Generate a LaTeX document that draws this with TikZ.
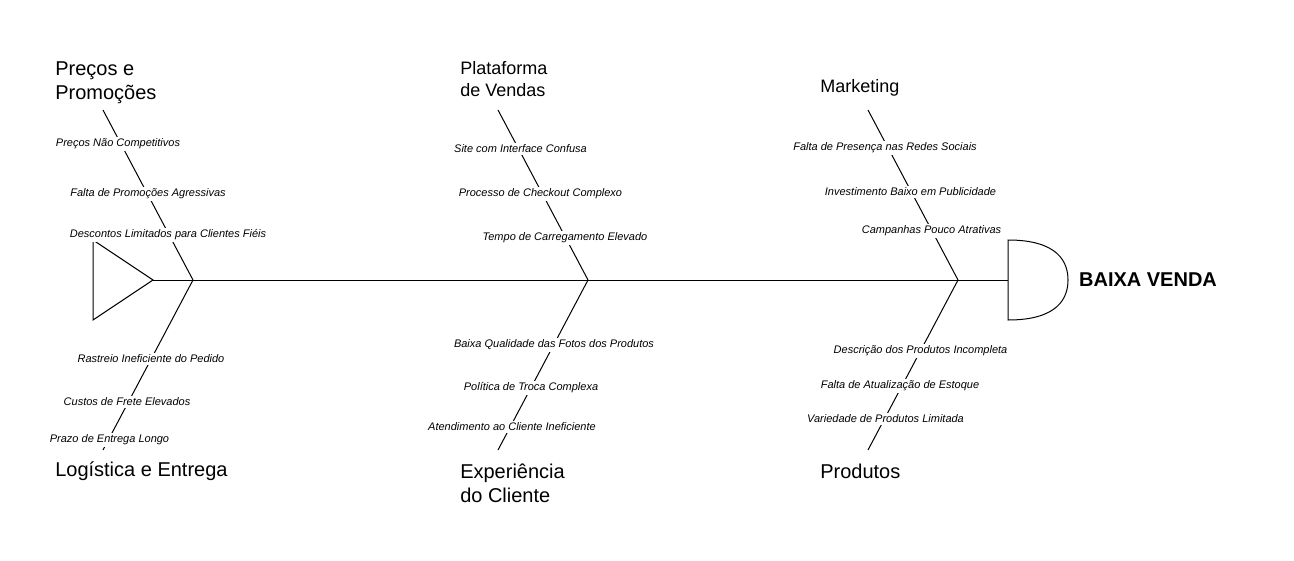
\documentclass[tikz,border=0pt]{standalone}
\usepackage{fontspec}
\setmainfont{Liberation Sans}
\tikzset{
  bone/.style={black,line width=0.75pt},
  cause/.style={fill=white,inner xsep=1pt,inner ysep=1.2pt,
    font=\fontsize{8.25}{9.9}\selectfont\itshape},
  group/.style={anchor=west,align=left,inner sep=0pt,
    font=\fontsize{15}{18}\selectfont},
  smallgroup/.style={group,font=\fontsize{13.5}{16.5}\selectfont},
  effect/.style={inner sep=0pt,font=\fontsize{15}{18}\selectfont\bfseries},
}

\begin{document}
\begin{tikzpicture}[x=0.75pt,y=-0.75pt]
  \useasboundingbox (0,0) rectangle (1294,560);
  % spine
  \coordinate (tail) at (153,280);
  \coordinate (head) at (1008,280);
  \coordinate (joint1) at (193,280);
  \coordinate (joint2) at (588,280);
  \coordinate (joint3) at (958,280);
  \draw[bone] (93,240) -- (93,320) -- (tail) -- cycle;
  \draw[bone] (1008,240) .. controls (1058,240) and (1068,262) .. (1068,280)
    .. controls (1068,298) and (1058,320) .. (1008,320) -- cycle;
  \draw[bone] (tail) -- (head);
  \node[effect] (efeito) at (1148,280) {BAIXA VENDA};

  % branch ends
  \coordinate (precos) at (103,110);
  \coordinate (logistica) at (103,450);
  \coordinate (plataforma) at (498,110);
  \coordinate (experiencia) at (498,450);
  \coordinate (marketing) at (868,110);
  \coordinate (produtos) at (868,450);
  \draw[bone] (joint1) -- (precos);
  \draw[bone] (joint1) -- (logistica);
  \draw[bone] (joint2) -- (plataforma);
  \draw[bone] (joint2) -- (experiencia);
  \draw[bone] (joint3) -- (marketing);
  \draw[bone] (joint3) -- (produtos);

  % groups
  \node[group] (grpPrecos) at (55,83) {Preços e\\Promoções};
  \node[group] (grpLogistica) at (55,471) {Logística e Entrega};
  \node[smallgroup] (grpPlataforma) at (460,79) {Plataforma\\de Vendas};
  \node[group] (grpExperiencia) at (460,483) {Experiência\\do Cliente};
  \node[smallgroup] (grpMarketing) at (820,88) {Marketing};
  \node[group] (grpProdutos) at (820,471) {Produtos};

  % causes
  \node[cause] (p1) at (118,144) {Preços Não Competitivos};
  \node[cause] (p2) at (148,194) {Falta de Promoções Agressivas};
  \node[cause] (p3) at (168,235) {Descontos Limitados para Clientes Fiéis};
  \node[cause] (l1) at (151,359) {Rastreio Ineficiente do Pedido};
  \node[cause] (l2) at (127,402) {Custos de Frete Elevados};
  \node[cause] (l3) at (109.5,440) {Prazo de Entrega Longo};
  \node[cause] (v1) at (520.5,149) {Site com Interface Confusa};
  \node[cause] (v2) at (540.5,194) {Processo de Checkout Complexo};
  \node[cause] (v3) at (565,238) {Tempo de Carregamento Elevado};
  \node[cause] (e1) at (554,345) {Baixa Qualidade das Fotos dos Produtos};
  \node[cause] (e2) at (531,388) {Política de Troca Complexa};
  \node[cause] (e3) at (512,427) {Atendimento ao Cliente Ineficiente};
  \node[cause] (m1) at (885,148) {Falta de Presença nas Redes Sociais};
  \node[cause] (m2) at (910.5,192) {Investimento Baixo em Publicidade};
  \node[cause] (m3) at (931.5,231) {Campanhas Pouco Atrativas};
  \node[cause] (d1) at (920.5,351) {Descrição dos Produtos Incompleta};
  \node[cause] (d2) at (900,386) {Falta de Atualização de Estoque};
  \node[cause] (d3) at (885.5,419) {Variedade de Produtos Limitada};
\end{tikzpicture}
\end{document}
